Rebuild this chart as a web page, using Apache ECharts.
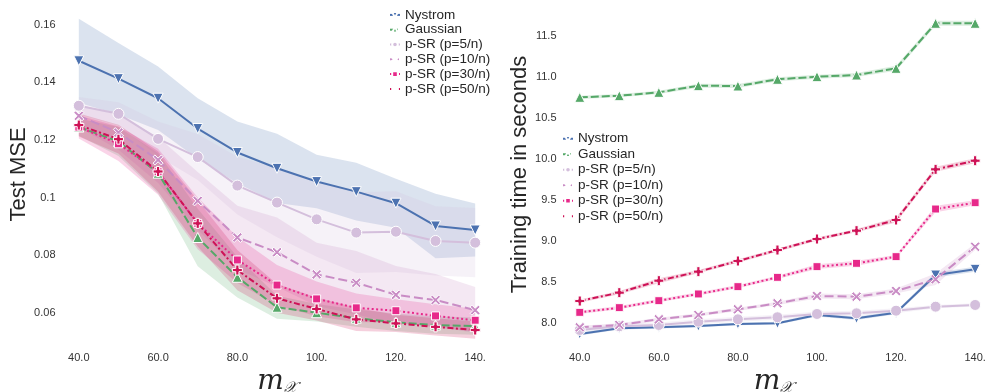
<!DOCTYPE html>
<html>
<head>
<meta charset="utf-8">
<script src="https://cdn.jsdelivr.net/npm/echarts@6/dist/echarts.min.js"></script>
<style>
  html, body { margin: 0; padding: 0; background: #fff; }
  #chart { width: 988px; height: 392px; }
</style>
</head>
<body>
<div id="chart"></div>
<script>
// Sample sizes m_X on the x axis
const mValues = [40, 50, 60, 70, 80, 90, 100, 110, 120, 130, 140];
const xTickValues = [40, 60, 80, 100, 120, 140];
const xTickLabels = ['40.0', '60.0', '80.0', '100.', '120.', '140.'];

const methodNames = ['Nystrom', 'Gaussian', 'p-SR (p=5/n)', 'p-SR (p=10/n)', 'p-SR (p=30/n)', 'p-SR (p=50/n)'];

// Test MSE: mean per method and half-width of the shaded band
const mseNystrom  = [0.1475, 0.1413, 0.1345, 0.1240, 0.1157, 0.1102, 0.1056, 0.1021, 0.0981, 0.0902, 0.0888];
const mseGaussian = [0.1245, 0.1195, 0.1085, 0.0862, 0.0724, 0.0620, 0.0601, 0.0582, 0.0568, 0.0558, 0.0555];
const mseP5       = [0.1319, 0.1291, 0.1204, 0.1141, 0.1042, 0.0983, 0.0925, 0.0879, 0.0882, 0.0850, 0.0844];
const mseP10      = [0.1284, 0.1226, 0.1131, 0.0989, 0.0862, 0.0811, 0.0734, 0.0705, 0.0663, 0.0645, 0.0610];
const mseP30      = [0.1245, 0.1187, 0.1090, 0.0911, 0.0784, 0.0697, 0.0649, 0.0618, 0.0608, 0.0590, 0.0575];
const mseP50      = [0.1252, 0.1203, 0.1091, 0.0911, 0.0749, 0.0651, 0.0614, 0.0578, 0.0564, 0.0552, 0.0541];

const mseSpreadNystrom  = [0.0146, 0.0124, 0.0110, 0.0105, 0.0107, 0.0120, 0.0093, 0.0100, 0.0085, 0.0112, 0.0092];
const mseSpreadGaussian = [0.003, 0.005, 0.007, 0.010, 0.007, 0.004, 0.003, 0.003, 0.003, 0.003, 0.003];
const mseSpreadP5       = [0.003, 0.004, 0.006, 0.008, 0.010, 0.012, 0.013, 0.014, 0.014, 0.012, 0.012];
const mseSpreadP10      = [0.004, 0.006, 0.008, 0.010, 0.011, 0.012, 0.011, 0.011, 0.010, 0.009, 0.008];
const mseSpreadP30      = [0.004, 0.006, 0.008, 0.009, 0.008, 0.007, 0.006, 0.005, 0.004, 0.004, 0.004];
const mseSpreadP50      = [0.004, 0.005, 0.007, 0.008, 0.007, 0.005, 0.004, 0.004, 0.003, 0.003, 0.003];

const mseTickValues = [0.06, 0.08, 0.10, 0.12, 0.14, 0.16];
const mseTickLabels = ['0.06', '0.08', '0.1', '0.12', '0.14', '0.16'];

// Training time in seconds: mean per method and band half-width
const timeNystrom  = [7.866, 7.935, 7.947, 7.963, 7.988, 7.996, 8.098, 8.057, 8.126, 8.585, 8.655];
const timeGaussian = [10.752, 10.772, 10.813, 10.894, 10.890, 10.972, 11.004, 11.024, 11.106, 11.655, 11.655];
const timeP5       = [7.915, 7.960, 7.976, 8.016, 8.045, 8.070, 8.110, 8.118, 8.150, 8.199, 8.220];
const timeP10      = [7.947, 7.976, 8.045, 8.098, 8.167, 8.240, 8.329, 8.321, 8.390, 8.533, 8.930];
const timeP30      = [8.130, 8.187, 8.272, 8.354, 8.443, 8.557, 8.687, 8.728, 8.809, 9.390, 9.467];
const timeP50      = [8.268, 8.370, 8.516, 8.626, 8.756, 8.890, 9.024, 9.126, 9.256, 9.874, 9.979];

const timeSpreadNystrom  = [0.020, 0.015, 0.015, 0.015, 0.015, 0.015, 0.020, 0.020, 0.020, 0.030, 0.030];
const timeSpreadGaussian = [0.020, 0.020, 0.020, 0.025, 0.025, 0.025, 0.025, 0.025, 0.030, 0.030, 0.030];
const timeSpreadP5       = [0.020, 0.030, 0.030, 0.030, 0.030, 0.030, 0.030, 0.030, 0.030, 0.020, 0.020];
const timeSpreadP10      = [0.020, 0.020, 0.020, 0.020, 0.020, 0.020, 0.030, 0.030, 0.030, 0.070, 0.040];
const timeSpreadP30      = [0.020, 0.020, 0.020, 0.020, 0.020, 0.020, 0.030, 0.030, 0.020, 0.040, 0.030];
const timeSpreadP50      = [0.020, 0.020, 0.030, 0.020, 0.020, 0.020, 0.020, 0.020, 0.030, 0.030, 0.030];

const timeTickValues = [8.0, 8.5, 9.0, 9.5, 10.0, 10.5, 11.0, 11.5];
const timeTickLabels = ['8.0', '8.5', '9.0', '9.5', '10.0', '10.5', '11.0', '11.5'];

// Marker shapes
const plusPath = 'path://M3.4,0 H6.6 V3.4 H10 V6.6 H6.6 V10 H3.4 V6.6 H0 V3.4 H3.4 Z';
const crossPath = 'path://M1.8,0 L5,3.2 L8.2,0 L10,1.8 L6.8,5 L10,8.2 L8.2,10 L5,6.8 L1.8,10 L0,8.2 L3.2,5 L0,1.8 Z';

const styles = {
  'Nystrom':        { color: '#4c72b0', dash: 'solid',          symbol: 'triangle', rotate: 180, size: 10 },
  'Gaussian':       { color: '#55a868', dash: [8, 3],            symbol: 'triangle', rotate: 0,   size: 10 },
  'p-SR (p=5/n)':   { color: '#d4bfdc', dash: 'solid',          symbol: 'circle',   rotate: 0,   size: 11 },
  'p-SR (p=10/n)':  { color: '#c98cc5', dash: [9, 4],            symbol: crossPath,  rotate: 0,   size: 10 },
  'p-SR (p=30/n)':  { color: '#e7298a', dash: [2, 2.5],          symbol: 'rect',     rotate: 0,   size: 8 },
  'p-SR (p=50/n)':  { color: '#ce1256', dash: [6, 2.5, 2, 2.5],  symbol: plusPath,   rotate: 0,   size: 10 }
};

const mseMeans   = [mseNystrom, mseGaussian, mseP5, mseP10, mseP30, mseP50];
const mseSpreads = [mseSpreadNystrom, mseSpreadGaussian, mseSpreadP5, mseSpreadP10, mseSpreadP30, mseSpreadP50];
const timeMeans   = [timeNystrom, timeGaussian, timeP5, timeP10, timeP30, timeP50];
const timeSpreads = [timeSpreadNystrom, timeSpreadGaussian, timeSpreadP5, timeSpreadP10, timeSpreadP30, timeSpreadP50];

function hexToRgba(hex, a) {
  const n = parseInt(hex.slice(1), 16);
  return 'rgba(' + ((n >> 16) & 255) + ',' + ((n >> 8) & 255) + ',' + (n & 255) + ',' + a + ')';
}

// Shaded band drawn as one polygon through the axis scales
function bandSeries(name, axisIdx, mean, spread) {
  const rows = mValues.map((x, i) => [x, mean[i] - spread[i], mean[i] + spread[i]]);
  return {
    type: 'custom',
    name: name + ' band',
    xAxisIndex: axisIdx,
    yAxisIndex: axisIdx,
    silent: true,
    z: 1,
    clip: true,
    encode: { x: 0, y: [1, 2] },
    data: rows,
    renderItem: function (params, api) {
      if (params.dataIndex !== 0) return null;
      const upper = rows.map(r => api.coord([r[0], r[2]]));
      const lower = rows.map(r => api.coord([r[0], r[1]])).reverse();
      return {
        type: 'polygon',
        shape: { points: upper.concat(lower) },
        style: { fill: hexToRgba(styles[name].color, 0.2), stroke: null }
      };
    }
  };
}

function lineSeries(name, axisIdx, mean) {
  const s = styles[name];
  return {
    type: 'line',
    name: name,
    xAxisIndex: axisIdx,
    yAxisIndex: axisIdx,
    z: 3,
    data: mValues.map((x, i) => [x, mean[i]]),
    symbol: s.symbol,
    symbolSize: s.size,
    symbolRotate: s.rotate,
    showAllSymbol: true,
    itemStyle: { color: s.color, borderColor: '#ffffff', borderWidth: 1 },
    lineStyle: { color: s.color, width: 2, type: s.dash },
    emphasis: { disabled: true },
    animation: false
  };
}

const series = [];
methodNames.forEach((n, k) => series.push(bandSeries(n, 0, mseMeans[k], mseSpreads[k])));
methodNames.forEach((n, k) => series.push(bandSeries(n, 1, timeMeans[k], timeSpreads[k])));
methodNames.forEach((n, k) => series.push(lineSeries(n, 0, mseMeans[k])));
methodNames.forEach((n, k) => series.push(lineSeries(n, 1, timeMeans[k])));

const textColor = '#262626';
const tickFont = { color: '#333333', fontSize: 11, fontFamily: 'Liberation Sans, Arial, sans-serif' };

function xAxisDef(gridIndex, max) {
  return {
    type: 'value', gridIndex: gridIndex, min: 35, max: max,
    axisLine: { show: false }, axisTick: { show: false }, splitLine: { show: false },
    axisLabel: Object.assign({
      customValues: xTickValues, margin: 9,
      formatter: v => xTickLabels[xTickValues.indexOf(v)]
    }, tickFont),
    name: '{m|m}{s|𝒳}',
    nameLocation: 'middle', nameGap: 18,
    nameTextStyle: {
      color: textColor,
      rich: {
        m: { fontFamily: 'DejaVu Serif', fontStyle: 'italic', fontSize: 28, color: textColor },
        s: { fontFamily: 'DejaVu Serif', fontStyle: 'italic', fontSize: 15, color: textColor, padding: [12, 0, 0, 0] }
      }
    }
  };
}

function yAxisDef(gridIndex, min, max, values, labels, title, gap) {
  return {
    type: 'value', gridIndex: gridIndex, min: min, max: max,
    axisLine: { show: false }, axisTick: { show: false }, splitLine: { show: false },
    axisLabel: Object.assign({
      customValues: values, margin: 3.5,
      formatter: v => labels[values.findIndex(t => Math.abs(t - v) < 1e-9)]
    }, tickFont),
    name: title, nameLocation: 'middle', nameGap: gap, nameRotate: 90,
    nameTextStyle: { color: textColor, fontSize: 22, fontFamily: 'Liberation Sans, Arial, sans-serif' }
  };
}

function legendDef(left, top, lineHeight) {
  return {
    orient: 'vertical', left: left, top: top, padding: 0,
    data: methodNames,
    itemWidth: 10, itemHeight: 7, itemGap: 0,
    selectedMode: false,
    textStyle: { color: textColor, fontSize: 13.5, lineHeight: lineHeight, fontFamily: 'Liberation Sans, Arial, sans-serif' }
  };
}

const chart = echarts.init(document.getElementById('chart'), null, { renderer: 'canvas' });
chart.setOption({
  backgroundColor: '#ffffff',
  animation: false,
  grid: [
    { left: 59, top: 6, width: 436, height: 337, outerBoundsMode: 'none', containLabel: false },
    { left: 560, top: 6, width: 427, height: 337, outerBoundsMode: 'none', containLabel: false }
  ],
  xAxis: [xAxisDef(0, 145), xAxisDef(1, 143)],
  yAxis: [
    yAxisDef(0, 0.0496, 0.1665, mseTickValues, mseTickLabels, 'Test MSE', 27),
    yAxisDef(1, 7.756, 11.866, timeTickValues, timeTickLabels, 'Training time in seconds', 23)
  ],
  legend: [legendDef(389, 7.5, 14.8), legendDef(562, 131, 15.5)],
  series: series
});
</script>
</body>
</html>
